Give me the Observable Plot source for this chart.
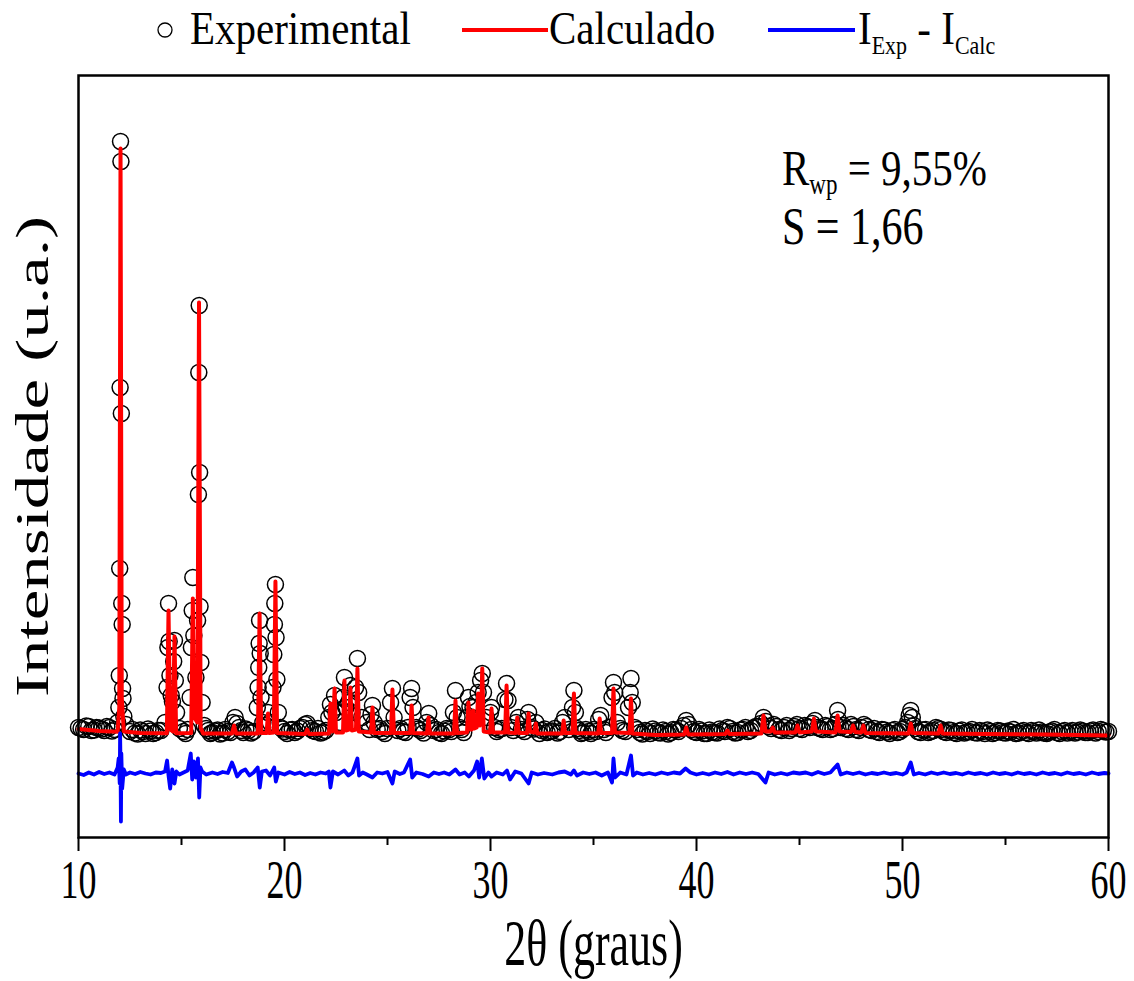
<!DOCTYPE html>
<html><head><meta charset="utf-8">
<script src="https://cdn.jsdelivr.net/npm/d3@7"></script>
<script src="https://cdn.jsdelivr.net/npm/@observablehq/plot@0.6"></script>
<style>
body{margin:0;background:#fff;}
#wrap{position:relative;width:1134px;height:981px;overflow:hidden;}
svg{display:block;}
</style></head><body><div id="wrap"></div>
<script>
// ---------- DATA ----------
// Experimental points [2θ, intensity]
const experimental = [
[10.00,1100],[10.25,1080],[10.50,1110],[10.75,1075],[11.00,1095],[11.25,1070],[11.50,1100],[11.75,1080],
[11.90,1150],[11.96,1300],[11.98,1620],[12.00,2690],[12.02,4500],[12.04,6960],[12.06,6760],[12.08,4240],
[12.10,2340],[12.12,2130],[12.14,1490],[12.16,1390],[12.20,1210],[12.30,1130],[12.50,1060],[12.75,1045],
[13.00,1075],[13.25,1040],[13.50,1065],[13.75,1050],[14.00,1070],[14.20,1150],[14.30,1500],[14.34,1900],
[14.37,2340],[14.40,1960],[14.44,1620],[14.50,1420],[14.56,1360],[14.62,1760],[14.66,1970],[14.70,1570],
[14.76,1250],[14.90,1090],[15.10,1060],[15.30,1080],[15.42,1400],[15.48,1900],[15.52,2270],[15.55,2600],
[15.60,2020],[15.70,1600],[15.78,2170],[15.82,3430],[15.84,4650],[15.86,5320],[15.88,3650],[15.90,2310],
[15.94,1750],[16.00,1350],[16.10,1120],[16.30,1070],[16.50,1050],[16.75,1075],[17.00,1045],[17.25,1060],
[17.50,1150],[17.60,1200],[17.70,1140],[17.90,1070],[18.00,1050],[18.25,1070],[18.50,1060],[18.68,1300],
[18.72,1500],[18.75,1700],[18.77,1940],[18.79,2170],[18.82,1840],[18.86,1400],[18.95,1150],[19.10,1120],
[19.20,1250],[19.30,1150],[19.44,1500],[19.48,1830],[19.51,2130],[19.53,2340],[19.56,2530],[19.59,2000],
[19.63,1580],[19.70,1250],[19.80,1100],[20.00,1060],[20.25,1075],[20.50,1050],[20.75,1090],[21.00,1130],
[21.10,1140],[21.25,1090],[21.50,1060],[21.75,1045],[22.00,1070],[22.15,1200],[22.23,1330],[22.30,1250],
[22.43,1420],[22.50,1250],[22.70,1150],[22.85,1400],[22.91,1600],[22.98,1300],[23.12,1350],[23.20,1520],
[23.28,1250],[23.45,1500],[23.54,1790],[23.60,1450],[23.75,1200],[24.00,1150],[24.20,1230],[24.27,1320],
[24.35,1150],[24.50,1080],[24.75,1060],[25.00,1090],[25.15,1350],[25.24,1490],[25.32,1200],[25.50,1070],
[25.75,1060],[26.00,1100],[26.10,1400],[26.17,1490],[26.24,1300],[26.40,1100],[26.60,1070],[26.90,1150],
[27.00,1240],[27.10,1120],[27.25,1070],[27.50,1050],[27.75,1065],[28.00,1080],[28.20,1250],[28.30,1470],
[28.38,1200],[28.60,1080],[28.85,1200],[28.93,1400],[29.00,1310],[29.15,1300],[29.30,1350],[29.40,1450],
[29.52,1570],[29.60,1640],[29.66,1450],[29.80,1200],[30.00,1250],[30.05,1300],[30.20,1100],[30.40,1080],
[30.70,1380],[30.78,1540],[30.85,1370],[31.00,1100],[31.25,1150],[31.35,1200],[31.50,1080],[31.80,1180],
[31.85,1250],[32.00,1100],[32.20,1150],[32.50,1070],[32.75,1050],[33.00,1065],[33.25,1045],[33.50,1150],
[33.60,1200],[33.80,1080],[33.98,1300],[34.05,1470],[34.12,1250],[34.30,1070],[34.50,1050],[34.75,1060],
[35.00,1080],[35.25,1180],[35.35,1220],[35.50,1080],[35.75,1100],[35.90,1400],[35.97,1550],[36.03,1450],
[36.15,1150],[36.40,1070],[36.70,1300],[36.78,1450],[36.82,1590],[36.88,1350],[37.00,1100],[37.25,1050],
[37.50,1070],[37.75,1040],[38.00,1065],[38.25,1045],[38.50,1060],[38.75,1050],[39.00,1075],[39.25,1090],
[39.50,1170],[39.75,1080],[40.00,1050],[40.25,1065],[40.50,1040],[40.75,1055],[41.00,1045],[41.25,1070],
[41.50,1100],[41.75,1060],[42.00,1050],[42.25,1080],[42.50,1060],[42.75,1095],[43.00,1110],[43.25,1200],
[43.50,1110],[43.75,1130],[44.00,1080],[44.25,1100],[44.50,1070],[44.75,1110],[45.00,1090],[45.25,1120],
[45.50,1100],[45.75,1170],[46.00,1090],[46.25,1120],[46.50,1080],[46.75,1130],[46.85,1270],[47.00,1100],
[47.25,1090],[47.50,1130],[47.75,1080],[48.00,1100],[48.25,1110],[48.50,1070],[48.75,1060],[49.00,1080],
[49.25,1055],[49.50,1070],[49.75,1050],[50.00,1080],[50.25,1150],[50.40,1270],[50.55,1120],[50.75,1060],
[51.00,1075],[51.25,1050],[51.50,1070],[51.75,1090],[52.00,1060],[52.25,1075],[52.50,1050],[52.75,1065],
[53.00,1045],[53.25,1060],[53.50,1050],[53.75,1070],[54.00,1040],[54.25,1060],[54.50,1050],[54.75,1065],
[55.00,1045],[55.25,1055],[55.50,1040],[55.75,1060],[56.00,1050],[56.25,1070],[56.50,1045],[56.75,1055],
[57.00,1040],[57.25,1065],[57.50,1050],[57.75,1060],[58.00,1045],[58.25,1070],[58.50,1055],[58.75,1065],
[59.00,1050],[59.25,1075],[59.50,1060],[59.75,1070],[60.00,1060]
];
// Additional experimental background points between the ones above [2θ, intensity]
const experimentalFine = [
[10.125,1090],[10.375,1115],[10.625,1070],[10.875,1100],[11.125,1085],[11.375,1110],[11.625,1065],
[12.625,1080],[12.875,1035],[13.125,1060],[13.375,1085],[13.625,1040],[13.875,1070],
[15.20,1040],[16.20,1090],[16.40,1040],[16.625,1065],[16.875,1035],[17.125,1080],[17.375,1050],
[17.80,1100],[18.125,1085],[18.375,1045],[19.90,1085],
[20.125,1040],[20.375,1080],[20.625,1065],[20.875,1100],[21.375,1070],[21.625,1090],[21.875,1055],
[24.125,1080],[24.625,1090],[24.875,1040],[25.625,1090],[25.875,1050],[26.50,1085],[26.75,1045],
[27.375,1080],[27.625,1040],[27.875,1090],[28.10,1060],[28.50,1100],[28.70,1050],
[30.30,1060],[30.55,1090],[31.10,1070],[31.65,1060],[32.10,1085],[32.375,1040],[32.625,1085],[32.875,1060],
[33.125,1090],[33.375,1060],[34.20,1090],[34.40,1040],[34.625,1080],[34.875,1040],[35.125,1060],[35.60,1050],
[36.30,1090],[36.55,1060],
[37.125,1080],[37.375,1035],[37.625,1060],[37.875,1085],[38.125,1050],[38.375,1075],[38.625,1035],[38.875,1080],
[39.125,1060],[39.375,1120],[39.625,1130],[39.875,1060],[40.125,1080],[40.375,1040],[40.625,1075],[40.875,1050],
[41.125,1085],[41.375,1060],[41.625,1090],[41.875,1045],[42.125,1075],[42.375,1100],[42.625,1070],[42.875,1110],
[43.125,1140],[43.375,1160],[43.625,1090],[43.875,1110],[44.125,1070],[44.375,1120],[44.625,1090],[44.875,1130],
[45.125,1080],[45.375,1110],[45.625,1140],[45.875,1100],[46.125,1080],[46.375,1110],[46.625,1090],[46.875,1180],
[47.125,1120],[47.375,1080],[47.625,1110],[47.875,1070],[48.125,1130],[48.375,1080],[48.625,1090],[48.875,1050],
[49.125,1075],[49.375,1040],[49.625,1080],[49.875,1060],[50.125,1100],[50.325,1220],[50.475,1200],[50.625,1090],
[50.875,1050],[51.125,1080],[51.375,1060],[51.625,1100],[51.875,1080],[52.125,1050],[52.375,1070],[52.625,1040],
[52.875,1075],[53.125,1055],[53.375,1080],[53.625,1045],[53.875,1060],[54.125,1075],[54.375,1040],[54.625,1070],
[54.875,1050],[55.125,1065],[55.375,1080],[55.625,1045],[55.875,1070],[56.125,1040],[56.375,1060],[56.625,1075],
[56.875,1045],[57.125,1055],[57.375,1080],[57.625,1040],[57.875,1070],[58.125,1060],[58.375,1045],[58.625,1075],
[58.875,1050],[59.125,1065],[59.375,1045],[59.625,1080],[59.875,1055]
];

// Calculated profile vertices [2θ, intensity]
const calculado = [
[10.00,1085],[11.00,1065],[11.90,1058],[11.98,1300],[12.04,6890],[12.10,1400],[12.20,1060],
[13.00,1045],[14.29,1042],[14.37,2270],[14.45,1080],[14.58,1060],[14.66,2010],[14.74,1042],
[15.47,1045],[15.55,2390],[15.62,1200],[15.77,1150],[15.85,5350],[15.93,1100],[16.05,1040],
[17.45,1040],[17.55,1120],[17.65,1040],[18.71,1040],[18.79,2240],[18.87,1045],[19.13,1045],[19.20,1240],
[19.27,1045],[19.48,1050],[19.56,2560],[19.64,1045],[21.00,1035],[21.10,1080],[21.20,1035],
[22.16,1040],[22.23,1340],[22.31,1060],[22.36,1070],[22.43,1490],[22.50,1050],[22.84,1050],[22.91,1570],
[22.98,1070],[23.13,1080],[23.20,1500],[23.27,1070],[23.47,1080],[23.54,1690],[23.61,1060],[24.20,1050],
[24.27,1300],[24.34,1045],[25.17,1045],[25.24,1480],[25.31,1045],[26.10,1045],[26.17,1320],[26.24,1045],
[26.92,1040],[26.99,1200],[27.06,1040],[28.23,1040],[28.30,1370],[28.37,1045],[28.86,1050],[28.93,1350],
[29.00,1080],[29.08,1080],[29.15,1270],[29.22,1090],[29.33,1100],[29.40,1440],[29.48,1120],[29.53,1150],
[29.60,1690],[29.67,1060],[29.98,1050],[30.05,1290],[30.12,1050],[30.71,1050],[30.78,1520],[30.85,1050],
[31.23,1045],[31.30,1200],[31.37,1045],[31.78,1045],[31.85,1240],[31.92,1060],[32.13,1050],[32.20,1140],
[32.27,1040],[33.48,1040],[33.55,1170],[33.62,1045],[33.98,1045],[34.05,1440],[34.12,1045],[35.23,1040],
[35.30,1190],[35.37,1045],[35.90,1045],[35.97,1490],[36.04,1050],[36.75,1045],[36.82,1390],[36.89,1040],
[38.00,1025],[39.40,1030],[39.50,1100],[39.60,1030],[41.40,1035],[41.50,1070],[41.60,1035],[43.15,1040],
[43.25,1220],[43.35,1060],[43.60,1060],[43.70,1100],[43.80,1050],[44.80,1050],[44.90,1120],[45.00,1050],
[45.60,1060],[45.70,1190],[45.80,1060],[46.75,1050],[46.85,1220],[46.95,1060],[47.50,1055],[47.60,1120],
[47.70,1055],[48.00,1050],[48.10,1120],[48.20,1045],[50.30,1040],[50.40,1140],[50.50,1045],[51.75,1040],
[51.85,1120],[51.95,1040],[54.00,1035],[57.00,1030],[60.00,1020]
];

// Difference I_Exp - I_Calc [2θ, residual]
const diferenca = [
[10.00,0],[10.25,-15],[10.50,10],[10.75,-10],[11.00,15],[11.25,-5],[11.50,10],[11.75,-10],[11.90,60],[11.95,150],
[12.00,-100],[12.02,400],[12.04,100],[12.06,-480],[12.08,200],[12.12,-150],[12.20,40],[12.30,-10],[12.50,10],[12.75,-5],
[13.00,15],[13.25,0],[13.50,-10],[13.75,10],[14.00,5],[14.20,20],[14.30,130],[14.37,-20],[14.45,-150],[14.55,40],
[14.66,-100],[14.75,20],[14.90,-10],[15.10,10],[15.30,30],[15.45,200],[15.52,-60],[15.60,120],[15.70,-40],[15.80,150],
[15.86,-240],[15.92,60],[16.00,20],[16.20,-10],[16.50,10],[16.75,-5],[17.00,15],[17.25,5],[17.45,110],[17.55,60],
[17.70,-30],[17.90,20],[18.10,40],[18.30,-20],[18.50,10],[18.70,60],[18.80,-140],[18.90,20],[19.10,30],[19.30,-20],
[19.50,60],[19.58,-80],[19.70,10],[20.00,-10],[20.25,15],[20.50,-5],[20.75,10],[21.00,-15],[21.25,5],[21.50,-10],
[21.75,10],[22.00,0],[22.15,20],[22.23,-140],[22.35,20],[22.60,-10],[22.90,30],[23.10,-20],[23.30,10],[23.54,150],
[23.62,-20],[23.80,10],[24.00,-10],[24.27,-40],[24.50,10],[24.75,0],[25.00,15],[25.24,-100],[25.35,20],[25.60,-5],
[25.80,10],[26.10,140],[26.20,-40],[26.40,10],[26.70,-5],[27.00,-30],[27.25,10],[27.50,-5],[27.75,10],[28.00,-10],
[28.30,40],[28.50,-10],[28.75,10],[28.95,-30],[29.20,30],[29.35,120],[29.45,-40],[29.58,150],[29.70,-50],[29.90,10],
[30.05,-30],[30.30,10],[30.60,-10],[30.80,30],[30.95,-60],[31.20,20],[31.50,0],[31.85,-100],[32.00,10],[32.30,-10],
[32.60,5],[33.00,-10],[33.30,10],[33.60,20],[33.90,-10],[34.05,30],[34.20,-20],[34.50,10],[34.80,-5],[35.10,10],
[35.40,-20],[35.70,10],[35.90,-90],[35.97,150],[36.05,-40],[36.30,10],[36.60,-10],[36.82,180],[36.92,-20],[37.10,10],
[37.40,-10],[37.70,5],[38.00,-10],[38.30,10],[38.60,-5],[38.90,10],[39.20,0],[39.47,50],[39.70,10],[40.00,-10],
[40.30,5],[40.60,-10],[40.90,10],[41.20,-5],[41.50,15],[41.80,-10],[42.10,10],[42.40,-5],[42.70,10],[43.00,-5],
[43.35,-90],[43.50,10],[43.80,-10],[44.10,5],[44.40,-10],[44.70,10],[45.00,0],[45.30,10],[45.60,-10],[45.90,15],
[46.20,-5],[46.50,10],[46.85,90],[47.00,-10],[47.30,10],[47.60,-5],[47.90,10],[48.20,-10],[48.50,5],[48.80,-5],
[49.10,10],[49.40,-5],[49.70,5],[50.00,-10],[50.20,10],[50.40,110],[50.55,-10],[50.80,5],[51.10,-10],[51.40,10],
[51.70,-5],[52.00,10],[52.30,-5],[52.60,5],[52.90,-10],[53.20,10],[53.50,-5],[53.80,5],[54.10,-10],[54.40,10],
[54.70,-5],[55.00,5],[55.30,-10],[55.60,10],[55.90,-5],[56.20,5],[56.50,-10],[56.80,10],[57.10,-5],[57.40,5],
[57.70,-10],[58.00,10],[58.30,-5],[58.60,5],[58.90,-10],[59.20,10],[59.50,-5],[59.80,5],[60.00,0]
];

const majorTicks = [10, 20, 30, 40, 50, 60];
const minorTicks = [15, 25, 35, 45, 55];
const legendLabels = ["Experimental", "Calculado", "I", "Exp", " - I", "Calc"];
const xLabel = "2θ (graus)";
const yLabel = "Intensidade (u.a.)";
const annotRwp = ["R", "wp", " = 9,55%"];
const annotS = "S = 1,66";

// ---------- LAYOUT ----------
const W = 1134, LEG_H = 62, H = 981 - LEG_H;
const SERIF = "'Liberation Serif','Times New Roman',serif";
const DIFF_OFFSET = 640;
const wrap = document.getElementById("wrap");

// Legend (above the chart)
const LEG_S = 1.12;
const leg = d3.create("svg").attr("width", W).attr("height", LEG_H)
  .style("font-family", SERIF).attr("fill", "#000");
leg.append("circle").attr("cx", 165).attr("cy", 30).attr("r", 7)
  .attr("fill", "none").attr("stroke", "#000").attr("stroke-width", 1.3);
leg.append("text").attr("transform", `translate(190,44) scale(1,${LEG_S})`)
  .attr("font-size", 41).text(legendLabels[0]);
leg.append("line").attr("x1", 462).attr("x2", 548).attr("y1", 30).attr("y2", 30)
  .attr("stroke", "#ff0000").attr("stroke-width", 4);
leg.append("text").attr("transform", `translate(549,44) scale(1,${LEG_S})`)
  .attr("font-size", 41).text(legendLabels[1]);
leg.append("line").attr("x1", 768).attr("x2", 855).attr("y1", 30).attr("y2", 30)
  .attr("stroke", "#0000ff").attr("stroke-width", 4);
const lt = leg.append("text").attr("transform", `translate(858,44) scale(1,${LEG_S})`)
  .attr("font-size", 41);
lt.append("tspan").text(legendLabels[2]);
lt.append("tspan").attr("dy", 9).attr("font-size", 22).text(legendLabels[3]);
lt.append("tspan").attr("dy", -9).text(legendLabels[4]);
lt.append("tspan").attr("dy", 9).attr("font-size", 22).text(legendLabels[5]);
wrap.appendChild(leg.node());

// Chart
const chart = Plot.plot({
  width: W, height: H,
  marginLeft: 78, marginRight: 26, marginTop: 13, marginBottom: 144,
  style: {fontFamily: SERIF, background: "#fff", color: "#000"},
  x: {domain: [10, 60]},
  y: {domain: [0, 7620], axis: null},
  marks: [
    Plot.dot(experimental.concat(experimentalFine), {x: d => d[0], y: d => d[1], r: 8, stroke: "#000", strokeWidth: 1.5, fill: "none"}),
    Plot.line(calculado, {x: d => d[0], y: d => d[1], stroke: "#ff0000", strokeWidth: 4, strokeLinejoin: "round"}),
    Plot.line(diferenca, {x: d => d[0], y: d => d[1] + DIFF_OFFSET, stroke: "#0000ff", strokeWidth: 3.8, strokeLinejoin: "round"}),
    Plot.frame({stroke: "#000", strokeWidth: 2.5}),
    Plot.axisX({ticks: minorTicks, tickSize: 8, strokeWidth: 2, tickFormat: () => "", label: null}),
    Plot.axisX({ticks: majorTicks, tickSize: 14, strokeWidth: 2, tickPadding: 8, fontSize: 36, label: null, tickFormat: d => String(d), ariaLabel: "ticklabels"}),
    Plot.text([xLabel], {frameAnchor: "bottom", dy: 106, text: d => d, fontSize: 44, lineAnchor: "middle", textAnchor: "middle", fill: "#000", ariaLabel: "xlabel"}),
    Plot.text([yLabel], {frameAnchor: "left", dx: -45, rotate: -90, text: d => d, fontSize: 46, lineAnchor: "middle", textAnchor: "middle", fill: "#000", ariaLabel: "ylabel"})
  ]
});

// Condensed-look text: stretch glyphs vertically (on screen)
function stretchText(t, s) {
  let tr = t.getAttribute("transform") || "";
  const x = t.getAttribute("x"), y = t.getAttribute("y");
  const num = v => v !== null && /^-?[\d.]+$/.test(v.trim());
  if (num(x) || num(y)) {
    tr += ` translate(${num(x) ? x : 0},${num(y) ? y : 0})`;
    if (num(x)) t.removeAttribute("x");
    if (num(y)) t.removeAttribute("y");
  }
  const rotated = /rotate/.test(tr);
  t.setAttribute("transform", `${tr} ${rotated ? `scale(${s},1)` : `scale(1,${s})`}`);
}
chart.querySelectorAll("text").forEach(t => {
  const g = t.closest("g[aria-label]");
  const lab = g ? g.getAttribute("aria-label") : "";
  const s = lab === "ylabel" ? 1.48 : lab === "xlabel" ? 1.25 : 1.5;
  stretchText(t, s);
});

// Fit statistics annotation (inside the frame, top right)
const ANN_S = 1.25;
const ann = d3.select(chart).append("g").style("font-family", SERIF)
  .attr("fill", "#000").attr("text-anchor", "start");
const a1 = ann.append("text").attr("transform", `translate(782,${185 - LEG_H}) scale(1,${ANN_S})`).attr("font-size", 41);
a1.append("tspan").text(annotRwp[0]);
a1.append("tspan").attr("dy", 7).attr("font-size", 23).text(annotRwp[1]);
a1.append("tspan").attr("dy", -7).text(annotRwp[2]);
ann.append("text").attr("transform", `translate(782,${244 - LEG_H}) scale(1,${ANN_S})`).attr("font-size", 42).text(annotS);

wrap.appendChild(chart);
</script></body></html>
